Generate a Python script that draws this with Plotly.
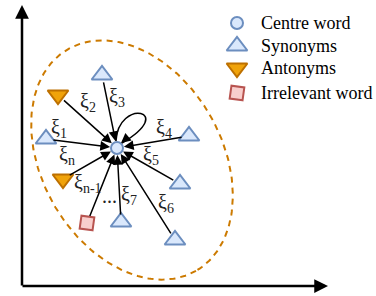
import numpy as np
import plotly.graph_objects as go

# ---- data (diagram coordinates, pixel-like space) ----
centre = (117, 148)
syn_x = [102, 46, 189, 180, 121, 175]
syn_y = [75, 139, 136, 184, 222, 240]
ant_x = [58, 63]
ant_y = [95, 179]
irr_x = [87]
irr_y = [223]

xi_labels = ["ξ<sub>1</sub>", "ξ<sub>2</sub>", "ξ<sub>3</sub>", "ξ<sub>4</sub>", "ξ<sub>5</sub>",
             "ξ<sub>6</sub>", "ξ<sub>7</sub>", "ξ<sub>n-1</sub>", "ξ<sub>n</sub>", "..."]
xi_x = [59, 88, 117, 164, 151, 166, 129, 88, 67, 109]
xi_y = [128, 102, 97, 128, 155, 203, 195, 183, 155, 196]

legend_labels = ["Centre word", "Synonyms", "Antonyms", "Irrelevant word"]
legend_y = [23, 46, 68, 93]

ell_c = (132, 160)
ell_a, ell_b, ell_ang = 128, 90, 60

BLUE_F, BLUE_E = "#dae8fc", "#6c8ebf"
OR_F, OR_E = "#f0a30a", "#BD7000"
RED_F, RED_E = "#f8cecc", "#b85450"

fig = go.Figure()

# ellipse
t = np.linspace(0, 2 * np.pi, 240)
th = np.deg2rad(ell_ang)
ex = ell_c[0] + ell_a * np.cos(t) * np.cos(th) - ell_b * np.sin(t) * np.sin(th)
ey = ell_c[1] + ell_a * np.cos(t) * np.sin(th) + ell_b * np.sin(t) * np.cos(th)
fig.add_trace(go.Scatter(x=ex, y=ey, mode="lines",
                         line=dict(color="#CC7A00", width=2, dash="6px,5px"),
                         hoverinfo="skip"))

annotations = []
# arrows from nodes to centre
src_x = syn_x + ant_x + irr_x
src_y = syn_y + ant_y + irr_y
for sx, sy in zip(src_x, src_y):
    annotations.append(dict(x=centre[0], y=centre[1], ax=sx, ay=sy, xref="x", yref="y",
                            axref="x", ayref="y", showarrow=True, arrowhead=2,
                            arrowsize=1.3, arrowwidth=1.5, arrowcolor="black",
                            standoff=7, startstandoff=6, text=""))

# self loop
fig.add_shape(type="path",
              path=f"M {centre[0]-1},{centre[1]-7} C 118,98 178,110 {centre[0]+5},{centre[1]-5}",
              line=dict(color="black", width=1.5), xref="x", yref="y")
annotations.append(dict(x=centre[0] + 4, y=centre[1] - 5, ax=centre[0] + 10, ay=centre[1] - 10,
                        xref="x", yref="y", axref="x", ayref="y", showarrow=True,
                        arrowhead=2, arrowsize=1.3, arrowwidth=1.5, arrowcolor="black", text=""))

# axes arrows
annotations.append(dict(x=22, y=5, ax=22, ay=287, xref="x", yref="y", axref="x", ayref="y",
                        showarrow=True, arrowhead=2, arrowsize=1.1, arrowwidth=2.5,
                        arrowcolor="black", text=""))
annotations.append(dict(x=328, y=286, ax=21, ay=286, xref="x", yref="y", axref="x", ayref="y",
                        showarrow=True, arrowhead=2, arrowsize=1.1, arrowwidth=2.5,
                        arrowcolor="black", text=""))

# node markers
fig.add_trace(go.Scatter(x=syn_x, y=syn_y, mode="markers",
                         marker=dict(symbol="triangle-up", size=18, color=BLUE_F,
                                     line=dict(color=BLUE_E, width=2))))
fig.add_trace(go.Scatter(x=ant_x, y=ant_y, mode="markers",
                         marker=dict(symbol="triangle-down", size=18, color=OR_F,
                                     line=dict(color=OR_E, width=2))))
fig.add_trace(go.Scatter(x=irr_x, y=irr_y, mode="markers",
                         marker=dict(symbol="square", size=13, angle=8, color=RED_F,
                                     line=dict(color=RED_E, width=2))))
fig.add_trace(go.Scatter(x=[centre[0]], y=[centre[1]], mode="markers",
                         marker=dict(symbol="circle", size=12, color=BLUE_F,
                                     line=dict(color=BLUE_E, width=2))))

# legend markers
leg_x = 237
fig.add_trace(go.Scatter(x=[leg_x], y=[legend_y[0]], mode="markers",
                         marker=dict(symbol="circle", size=12, color=BLUE_F,
                                     line=dict(color=BLUE_E, width=2))))
fig.add_trace(go.Scatter(x=[leg_x], y=[legend_y[1]], mode="markers",
                         marker=dict(symbol="triangle-up", size=18, color=BLUE_F,
                                     line=dict(color=BLUE_E, width=2))))
fig.add_trace(go.Scatter(x=[leg_x], y=[legend_y[2]], mode="markers",
                         marker=dict(symbol="triangle-down", size=18, color=OR_F,
                                     line=dict(color=OR_E, width=2))))
fig.add_trace(go.Scatter(x=[leg_x], y=[legend_y[3]], mode="markers",
                         marker=dict(symbol="square", size=13, angle=8, color=RED_F,
                                     line=dict(color=RED_E, width=2))))

for lab, ly in zip(legend_labels, legend_y):
    annotations.append(dict(x=259, y=ly, xref="x", yref="y", text=lab, showarrow=False,
                            xanchor="left", yanchor="middle",
                            font=dict(family="Liberation Serif", size=18, color="black")))

for lab, lx, ly in zip(xi_labels, xi_x, xi_y):
    annotations.append(dict(x=lx, y=ly, xref="x", yref="y", text=lab, showarrow=False,
                            xanchor="center", yanchor="middle",
                            font=dict(family="Liberation Serif", size=20, color="#222222")))

fig.update_layout(
    width=376, height=296, margin=dict(l=0, r=0, t=0, b=0),
    plot_bgcolor="white", paper_bgcolor="white", showlegend=False,
    xaxis=dict(range=[0, 376], visible=False, fixedrange=True),
    yaxis=dict(range=[296, 0], visible=False, fixedrange=True),
    annotations=annotations,
)

fig.write_html("out.html", config={"displayModeBar": False},
               post_script="document.body.style.margin='0';")
